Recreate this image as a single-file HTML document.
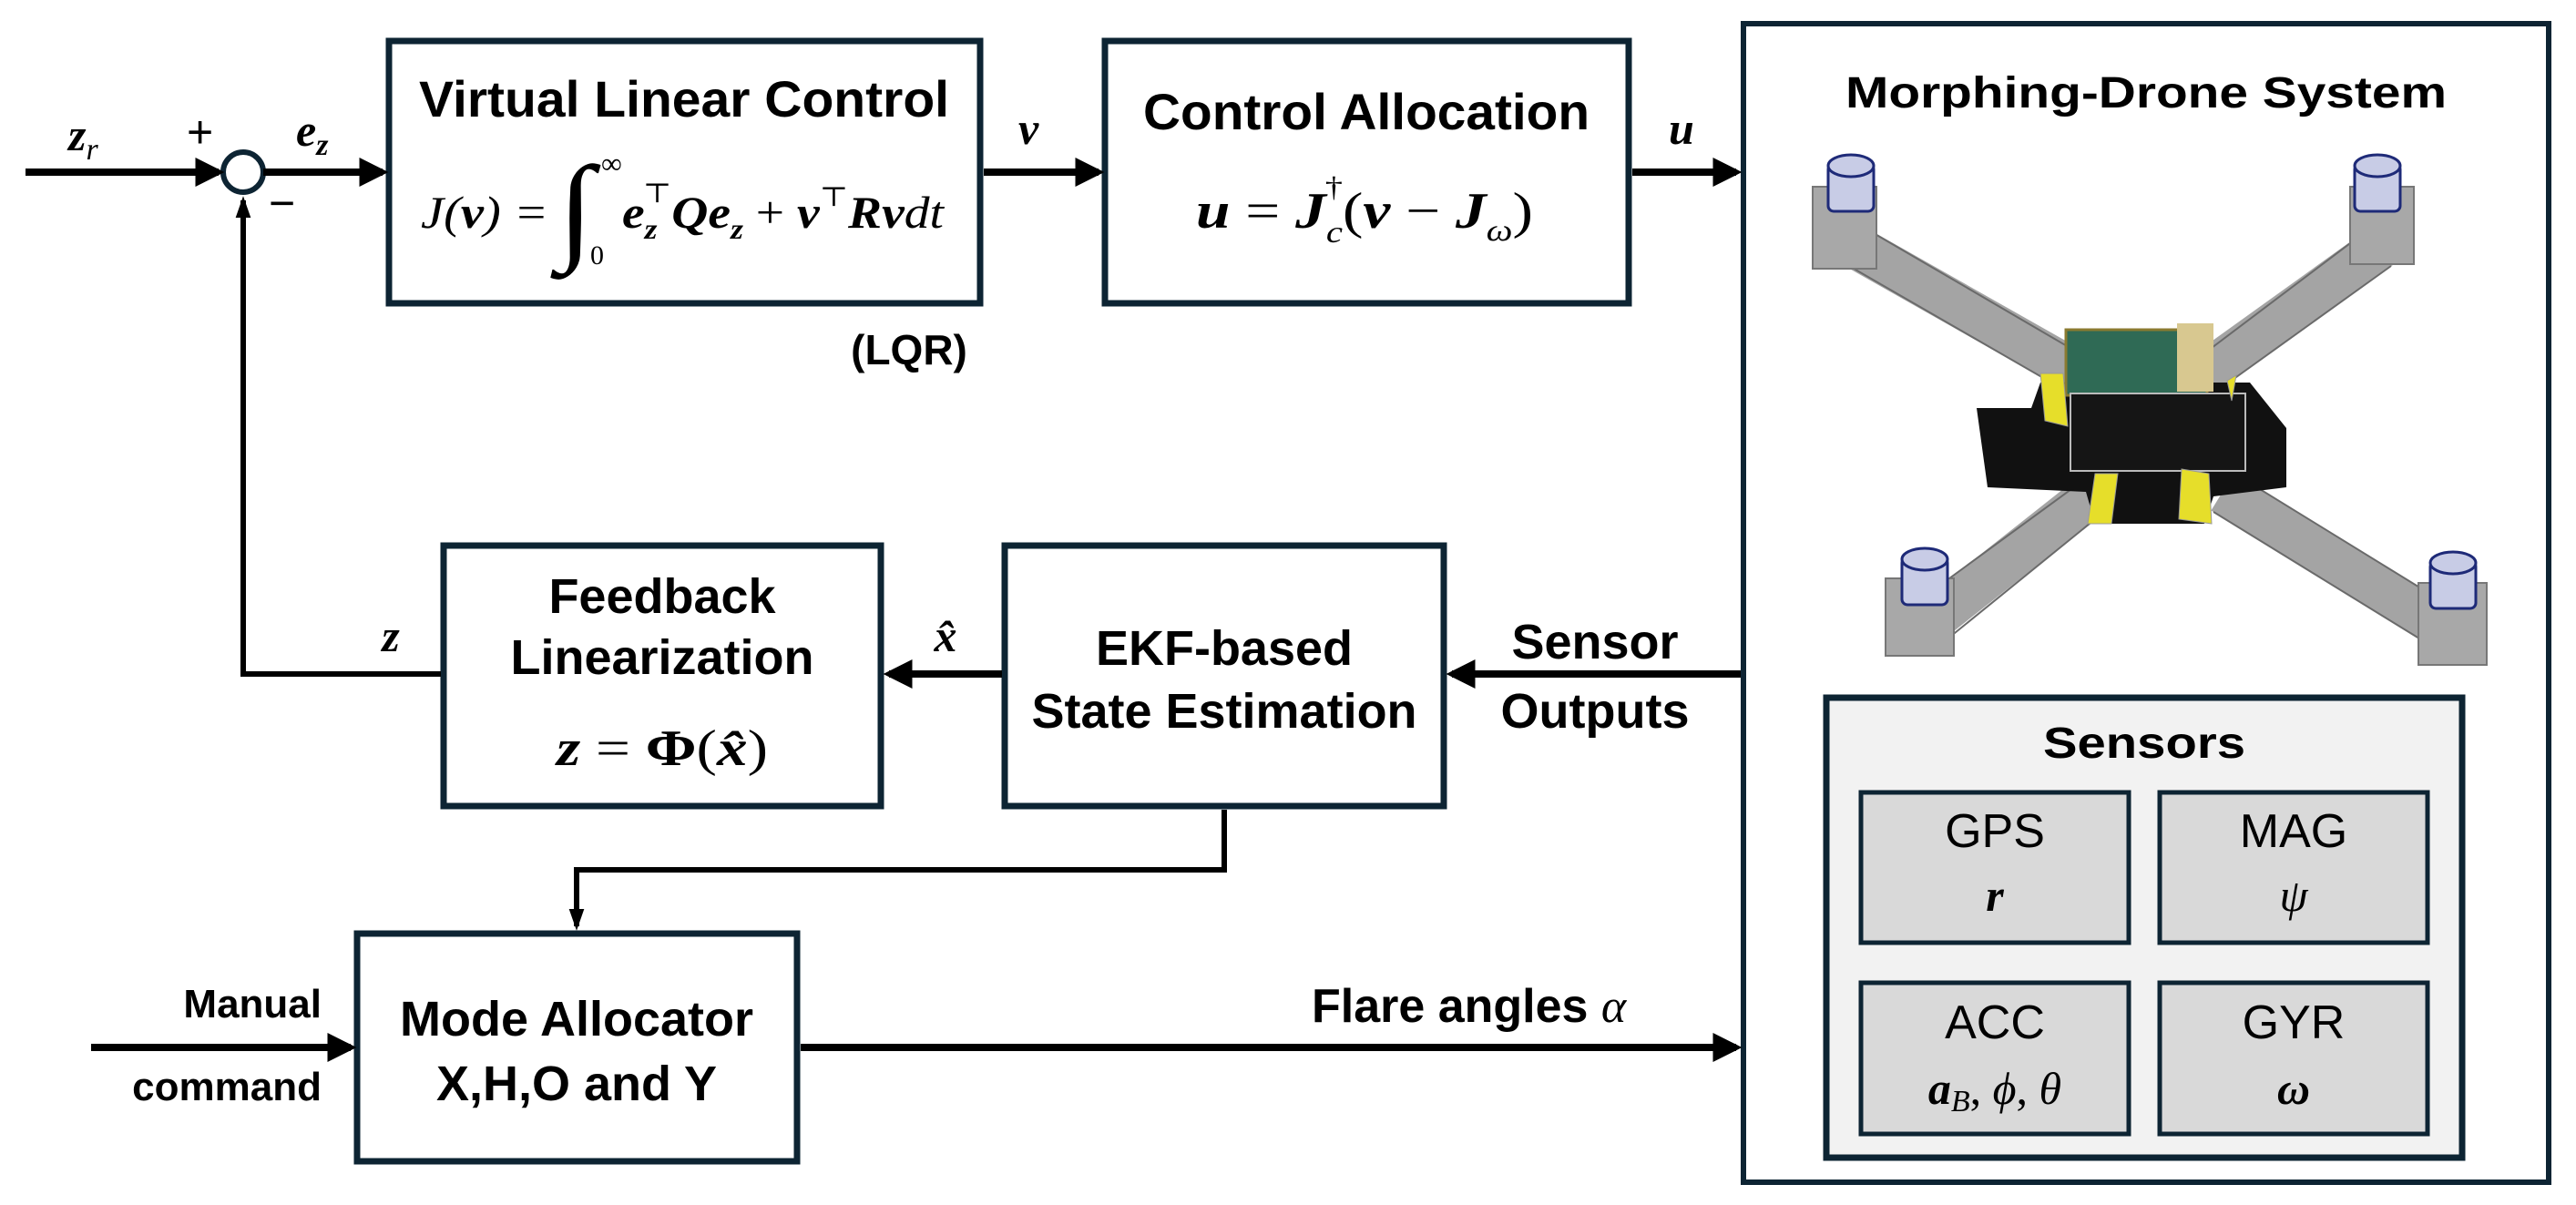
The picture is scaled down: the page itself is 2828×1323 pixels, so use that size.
<!DOCTYPE html>
<html><head><meta charset="utf-8"><style>
html,body{margin:0;padding:0;background:#fff;}
svg{display:block;}
.t{font-family:"Liberation Sans",Arial,sans-serif;font-weight:bold;fill:#000;}
.r{font-family:"Liberation Sans",Arial,sans-serif;fill:#000;}
.m{font-family:"Liberation Serif","DejaVu Serif",serif;font-style:italic;fill:#000;}
.mb{font-family:"Liberation Serif","DejaVu Serif",serif;font-style:italic;font-weight:bold;fill:#000;}
.mr{font-family:"Liberation Serif","DejaVu Serif",serif;fill:#000;}
</style></head><body>
<svg width="2828" height="1323" viewBox="0 0 2828 1323" xmlns="http://www.w3.org/2000/svg">
<defs>
<marker id="a" markerWidth="4" markerHeight="4" refX="3.2" refY="2" orient="auto" markerUnits="strokeWidth">
<path d="M0,0 L4,2 L0,4 Z" fill="#000"/></marker>
<marker id="b" markerWidth="4" markerHeight="4" refX="3.2" refY="2" orient="auto" markerUnits="strokeWidth">
<path d="M0,0.6 L4,2 L0,3.4 Z" fill="#000"/></marker>
</defs>
<g fill="none" stroke="#0d2433" stroke-width="7">
<rect x="427" y="45" width="649" height="288"/>
<rect x="1213" y="45" width="575" height="288"/>
<rect x="487" y="599" width="480" height="286"/>
<rect x="1103" y="599" width="482" height="286"/>
<rect x="392" y="1025" width="483" height="250"/>
<rect x="1914" y="26" width="884" height="1272" stroke-width="6"/>
</g>
<rect x="2005" y="766" width="698" height="505" fill="#f2f2f2" stroke="#0d2433" stroke-width="7"/>
<g fill="#d9d9d9" stroke="#0d2433" stroke-width="5">
<rect x="2043" y="870" width="294" height="165"/>
<rect x="2371" y="870" width="294" height="165"/>
<rect x="2043" y="1079" width="294" height="166"/>
<rect x="2371" y="1079" width="294" height="166"/>
</g>
<circle cx="267" cy="189" r="22" fill="#fff" stroke="#0d2433" stroke-width="6"/>
<g stroke="#000" stroke-width="8" fill="none">
<line x1="28" y1="189" x2="240" y2="189" marker-end="url(#a)"/>
<line x1="289" y1="189" x2="420" y2="189" marker-end="url(#a)"/>
<line x1="1080" y1="189" x2="1206" y2="189" marker-end="url(#a)"/>
<line x1="1792" y1="189" x2="1906" y2="189" marker-end="url(#a)"/>
<line x1="1911" y1="740" x2="1594" y2="740" marker-end="url(#a)"/>
<line x1="1100" y1="740" x2="976" y2="740" marker-end="url(#a)"/>
<polyline points="484,740 267,740 267,220" stroke-width="6" marker-end="url(#b)"/>
<polyline points="1344,889 1344,955 633,955 633,1017" stroke-width="6" marker-end="url(#b)"/>
<line x1="100" y1="1150" x2="385" y2="1150" marker-end="url(#a)"/>
<line x1="879" y1="1150" x2="1906" y2="1150" marker-end="url(#a)"/>
</g>
<!-- labels -->
<text class="mb" x="75" y="165" font-size="50">z<tspan font-size="34" dy="10" font-weight="normal">r</tspan></text>
<text class="r" x="205" y="162" font-size="50">+</text>
<text class="r" x="295" y="240" font-size="50">−</text>
<text class="mb" x="325" y="160" font-size="50">e<tspan font-size="34" dy="10">z</tspan></text>
<text class="mb" x="1118" y="158" font-size="50">v</text>
<text class="mb" x="1832" y="158" font-size="50">u</text>
<text class="t" x="998" y="400" font-size="46" text-anchor="middle">(LQR)</text>
<text class="t" x="751" y="128" font-size="56" text-anchor="middle" textLength="582" lengthAdjust="spacingAndGlyphs">Virtual Linear Control</text>
<text class="t" x="1500" y="142" font-size="56" text-anchor="middle" textLength="490" lengthAdjust="spacingAndGlyphs">Control Allocation</text>
<text class="m" x="462" y="250" font-size="50" textLength="140" lengthAdjust="spacingAndGlyphs">J(<tspan class="mb">v</tspan>) =</text>
<text class="mr" x="612" y="272" font-size="130" textLength="40" lengthAdjust="spacingAndGlyphs">∫</text>
<text class="mr" x="660" y="190" font-size="32">∞</text>
<text class="mr" x="648" y="290" font-size="30">0</text>
<text class="mb" x="683" y="250" font-size="50" textLength="353" lengthAdjust="spacingAndGlyphs">e<tspan font-size="32" dy="12">z</tspan><tspan font-size="30" dx="-14" dy="-40" font-style="normal" font-weight="normal">⊤</tspan><tspan dy="28">Qe</tspan><tspan font-size="32" dy="12">z</tspan><tspan dy="-12" font-weight="normal" font-style="normal"> + </tspan>v<tspan font-size="30" dy="-24" font-style="normal" font-weight="normal">⊤</tspan><tspan dy="24">Rv</tspan><tspan font-weight="normal">dt</tspan></text>
<text class="mb" x="1313" y="250" font-size="56" textLength="370" lengthAdjust="spacingAndGlyphs">u <tspan font-weight="normal" font-style="normal">=</tspan> J<tspan font-size="34" dy="16" font-weight="normal">c</tspan><tspan font-size="32" dx="-16" dy="-50" font-style="normal" font-weight="normal">†</tspan><tspan dy="34" font-weight="normal" font-style="normal">(</tspan>v <tspan font-weight="normal" font-style="normal">−</tspan> J<tspan font-size="34" dy="14" font-weight="normal">ω</tspan><tspan dy="-14" font-weight="normal" font-style="normal">)</tspan></text>
<text class="t" x="727" y="673" font-size="54" text-anchor="middle">Feedback</text>
<text class="t" x="727" y="740" font-size="54" text-anchor="middle">Linearization</text>
<text class="mb" x="727" y="840" font-size="56" text-anchor="middle" textLength="232" lengthAdjust="spacingAndGlyphs">z <tspan font-weight="normal" font-style="normal">= </tspan><tspan font-style="normal">Φ</tspan><tspan font-weight="normal" font-style="normal">(</tspan>x̂<tspan font-weight="normal" font-style="normal">)</tspan></text>
<text class="t" x="1344" y="730" font-size="54" text-anchor="middle">EKF-based</text>
<text class="t" x="1344" y="799" font-size="54" text-anchor="middle">State Estimation</text>
<text class="t" x="1751" y="723" font-size="54" text-anchor="middle">Sensor</text>
<text class="t" x="1751" y="799" font-size="54" text-anchor="middle">Outputs</text>
<text class="mb" x="429" y="715" font-size="50" text-anchor="middle">z</text>
<text class="mb" x="1038" y="715" font-size="50" text-anchor="middle">x̂</text>
<text class="t" x="633" y="1137" font-size="54" text-anchor="middle">Mode Allocator</text>
<text class="t" x="633" y="1208" font-size="54" text-anchor="middle">X,H,O and Y</text>
<text class="t" x="353" y="1117" font-size="44" text-anchor="end">Manual</text>
<text class="t" x="353" y="1208" font-size="44" text-anchor="end">command</text>
<text class="t" x="1440" y="1122" font-size="52">Flare angles <tspan class="m" font-weight="normal">α</tspan></text>
<text class="t" x="2356" y="118" font-size="48" text-anchor="middle" textLength="660" lengthAdjust="spacingAndGlyphs">Morphing-Drone System</text>
<text class="t" x="2354" y="832" font-size="48" text-anchor="middle" textLength="222" lengthAdjust="spacingAndGlyphs">Sensors</text>
<text class="r" x="2190" y="930" font-size="52" text-anchor="middle">GPS</text>
<text class="mb" x="2190" y="1000" font-size="50" text-anchor="middle">r</text>
<text class="r" x="2518" y="930" font-size="52" text-anchor="middle">MAG</text>
<text class="m" x="2518" y="1000" font-size="50" text-anchor="middle">ψ</text>
<text class="r" x="2190" y="1140" font-size="52" text-anchor="middle">ACC</text>
<text class="mb" x="2190" y="1212" font-size="50" text-anchor="middle">a<tspan font-size="34" dy="8" font-weight="normal">B</tspan><tspan dy="-8" font-style="normal" font-weight="normal">, </tspan><tspan font-weight="normal">ϕ</tspan><tspan font-style="normal" font-weight="normal">, </tspan><tspan font-weight="normal">θ</tspan></text>
<text class="r" x="2518" y="1140" font-size="52" text-anchor="middle">GYR</text>
<text class="mb" x="2518" y="1212" font-size="50" text-anchor="middle">ω</text>
<!-- drone -->
<g>
<g stroke="#a4a4a4" stroke-linecap="butt" fill="none">
<line x1="2035" y1="270" x2="2300" y2="420" stroke-width="48"/>
<line x1="2615" y1="270" x2="2420" y2="410" stroke-width="48"/>
<line x1="2110" y1="690" x2="2300" y2="540" stroke-width="48"/>
<line x1="2700" y1="700" x2="2440" y2="540" stroke-width="48"/>
</g>
<g stroke="#6a6a6a" stroke-width="2" fill="none">
<line x1="2050" y1="252" x2="2300" y2="398"/><line x1="2030" y1="292" x2="2290" y2="442"/>
<line x1="2600" y1="252" x2="2420" y2="388"/><line x1="2625" y1="292" x2="2430" y2="432"/>
<line x1="2095" y1="668" x2="2300" y2="518"/><line x1="2125" y1="712" x2="2310" y2="562"/>
<line x1="2710" y1="678" x2="2450" y2="518"/><line x1="2690" y1="722" x2="2430" y2="562"/>
</g>
<g fill="#a8a8a8" stroke="#777" stroke-width="2">
<rect x="1990" y="205" width="70" height="90"/>
<rect x="2580" y="205" width="70" height="85"/>
<rect x="2070" y="635" width="75" height="85"/>
<rect x="2655" y="640" width="75" height="90"/>
</g>
<g fill="#c8cce6" stroke="#1e2a78" stroke-width="3">
<rect x="2007" y="180" width="50" height="52" rx="6"/><ellipse cx="2032" cy="182" rx="25" ry="12"/>
<rect x="2585" y="180" width="50" height="52" rx="6"/><ellipse cx="2610" cy="182" rx="25" ry="12"/>
<rect x="2088" y="612" width="50" height="52" rx="6"/><ellipse cx="2113" cy="614" rx="25" ry="12"/>
<rect x="2668" y="616" width="50" height="52" rx="6"/><ellipse cx="2693" cy="618" rx="25" ry="12"/>
</g>
<path d="M2170,448 L2230,448 L2240,420 L2470,420 L2510,470 L2510,535 L2430,545 L2420,575 L2300,575 L2290,540 L2182,535 Z" fill="#111"/>
<rect x="2268" y="362" width="155" height="72" fill="#2f6a55" stroke="#8a7a30" stroke-width="3"/>
<rect x="2390" y="355" width="40" height="75" fill="#d8c890"/>
<rect x="2273" y="432" width="192" height="85" fill="#151515" stroke="#bbb" stroke-width="2"/>
<g fill="#e6de2a" stroke="#999" stroke-width="1">
<polygon points="2240,410 2265,410 2270,468 2245,462"/>
<polygon points="2300,520 2325,520 2318,575 2292,575"/>
<polygon points="2395,515 2425,520 2428,575 2392,570"/>
<polygon points="2445,418 2455,412 2450,440"/>
</g>
</g>
</svg>
</body></html>
